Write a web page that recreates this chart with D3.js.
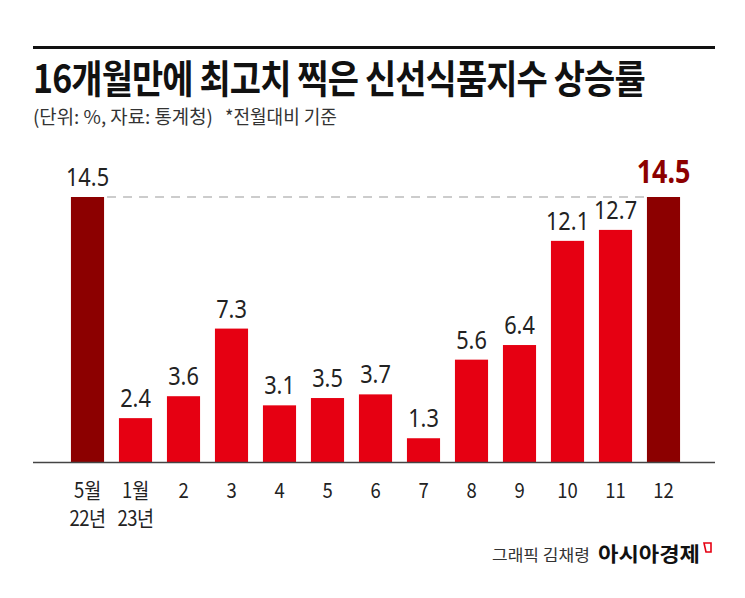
<!DOCTYPE html>
<html>
<head>
<meta charset="utf-8">
<script src="https://cdn.jsdelivr.net/npm/d3@7"></script>
<style>
  body { margin: 0; background: #fff; }
  svg { display: block; }
</style>
</head>
<body>
<div id="chart"></div>
<script>
const months = ["5월", "1월", "2", "3", "4", "5", "6", "7", "8", "9", "10", "11", "12"];
const years = ["22년", "23년", "", "", "", "", "", "", "", "", "", "", ""];
const values = [14.5, 2.4, 3.6, 7.3, 3.1, 3.5, 3.7, 1.3, 5.6, 6.4, 12.1, 12.7, 14.5];
const highlight = [true, false, false, false, false, false, false, false, false, false, false, false, true];

const width = 745, height = 598;
const baseY = 462;
const kr = "'Noto Sans CJK KR', sans-serif";

const svg = d3.select("#chart")
  .append("svg")
  .attr("width", width)
  .attr("height", height);

const x = d3.scaleBand()
  .domain(d3.range(values.length))
  .range([63.5, 687.5])
  .paddingInner(0.31)
  .paddingOuter(0.155);

const y = d3.scaleLinear()
  .domain([0, 14.5])
  .range([baseY, 197]);

// squeeze a text horizontally so it spans w pixels from x0
function fitWidth(sel, x0, w) {
  const len = sel.node().getComputedTextLength();
  const k = w / len;
  sel.attr("transform", `translate(${x0},0) scale(${k},1) translate(${-x0},0)`);
}

// top rule
svg.append("rect")
  .attr("x", 33).attr("y", 46)
  .attr("width", 682).attr("height", 3)
  .attr("fill", "#111");

const title = svg.append("text")
  .attr("x", 33).attr("y", 93)
  .attr("font-family", kr)
  .attr("font-weight", 700)
  .attr("font-size", 39)
  .attr("fill", "#111")
  .attr("letter-spacing", -1)
  .text("16개월만에 최고치 찍은 신선식품지수 상승률");
fitWidth(title, 33, 612);

const sub1 = svg.append("text")
  .attr("x", 33).attr("y", 124)
  .attr("font-family", kr)
  .attr("font-size", 19)
  .attr("fill", "#333")
  .text("(단위: %, 자료: 통계청)");
fitWidth(sub1, 33, 180);

const sub2 = svg.append("text")
  .attr("x", 225).attr("y", 124)
  .attr("font-family", kr)
  .attr("font-size", 19)
  .attr("fill", "#333")
  .text("*전월대비 기준");
fitWidth(sub2, 225, 112);

// dashed reference line at 14.5
svg.append("line")
  .attr("x1", x(0) + x.bandwidth() + 3)
  .attr("x2", x(12) - 1)
  .attr("y1", y(14.5)).attr("y2", y(14.5))
  .attr("stroke", "#999")
  .attr("stroke-width", 1.2)
  .attr("stroke-dasharray", "9,7");

// bars
svg.selectAll("rect.bar")
  .data(values)
  .enter()
  .append("rect")
  .attr("class", "bar")
  .attr("x", (d, i) => x(i))
  .attr("y", d => y(d))
  .attr("width", x.bandwidth())
  .attr("height", d => baseY - y(d))
  .attr("fill", (d, i) => highlight[i] ? "#8c0000" : "#e60012");

// value labels
svg.selectAll("text.val")
  .data(values)
  .enter()
  .append("text")
  .attr("class", "val")
  .attr("transform", (d, i) =>
    `translate(${x(i) + x.bandwidth() / 2},${y(d) - (i === 12 ? 14 : 11)}) scale(${i === 12 ? 0.84 : 0.87},1)`)
  .attr("text-anchor", "middle")
  .attr("font-family", "'Noto Sans', sans-serif")
  .attr("font-size", (d, i) => i === 12 ? 32 : 25)
  .attr("font-weight", (d, i) => i === 12 ? 700 : 400)
  .attr("fill", (d, i) => i === 12 ? "#8c0000" : "#222")
  .text(d => d.toFixed(1));

// baseline axis
svg.append("line")
  .attr("x1", 33).attr("x2", 715)
  .attr("y1", baseY + 0.5).attr("y2", baseY + 0.5)
  .attr("stroke", "#444")
  .attr("stroke-width", 1.5);

// x labels
const xl = svg.selectAll("g.xl")
  .data(months)
  .enter()
  .append("g")
  .attr("class", "xl")
  .attr("transform", (d, i) => `translate(${x(i) + x.bandwidth() / 2},0) scale(0.88,1)`);

xl.append("text")
  .attr("y", 498)
  .attr("text-anchor", "middle")
  .attr("font-family", kr)
  .attr("font-size", 21)
  .attr("fill", "#222")
  .text(d => d);

xl.append("text")
  .attr("y", 526)
  .attr("text-anchor", "middle")
  .attr("font-family", kr)
  .attr("font-size", 21)
  .attr("letter-spacing", -0.5)
  .attr("fill", "#222")
  .text((d, i) => years[i]);

// credit
const credit = svg.append("text")
  .attr("x", 492).attr("y", 561)
  .attr("font-family", kr)
  .attr("font-size", 16)
  .attr("fill", "#333")
  .text("그래픽 김채령");
fitWidth(credit, 492, 98);

const brand = svg.append("text")
  .attr("x", 598).attr("y", 562)
  .attr("font-family", kr)
  .attr("font-weight", 700)
  .attr("font-size", 20)
  .attr("fill", "#111")
  .text("아시아경제");
fitWidth(brand, 598, 102);

svg.append("path")
  .attr("d", "M704,543 L711,543 L711,552 L706,552 Z")
  .attr("fill", "none")
  .attr("stroke", "#e60012")
  .attr("stroke-width", 1.6);
</script>
</body>
</html>
